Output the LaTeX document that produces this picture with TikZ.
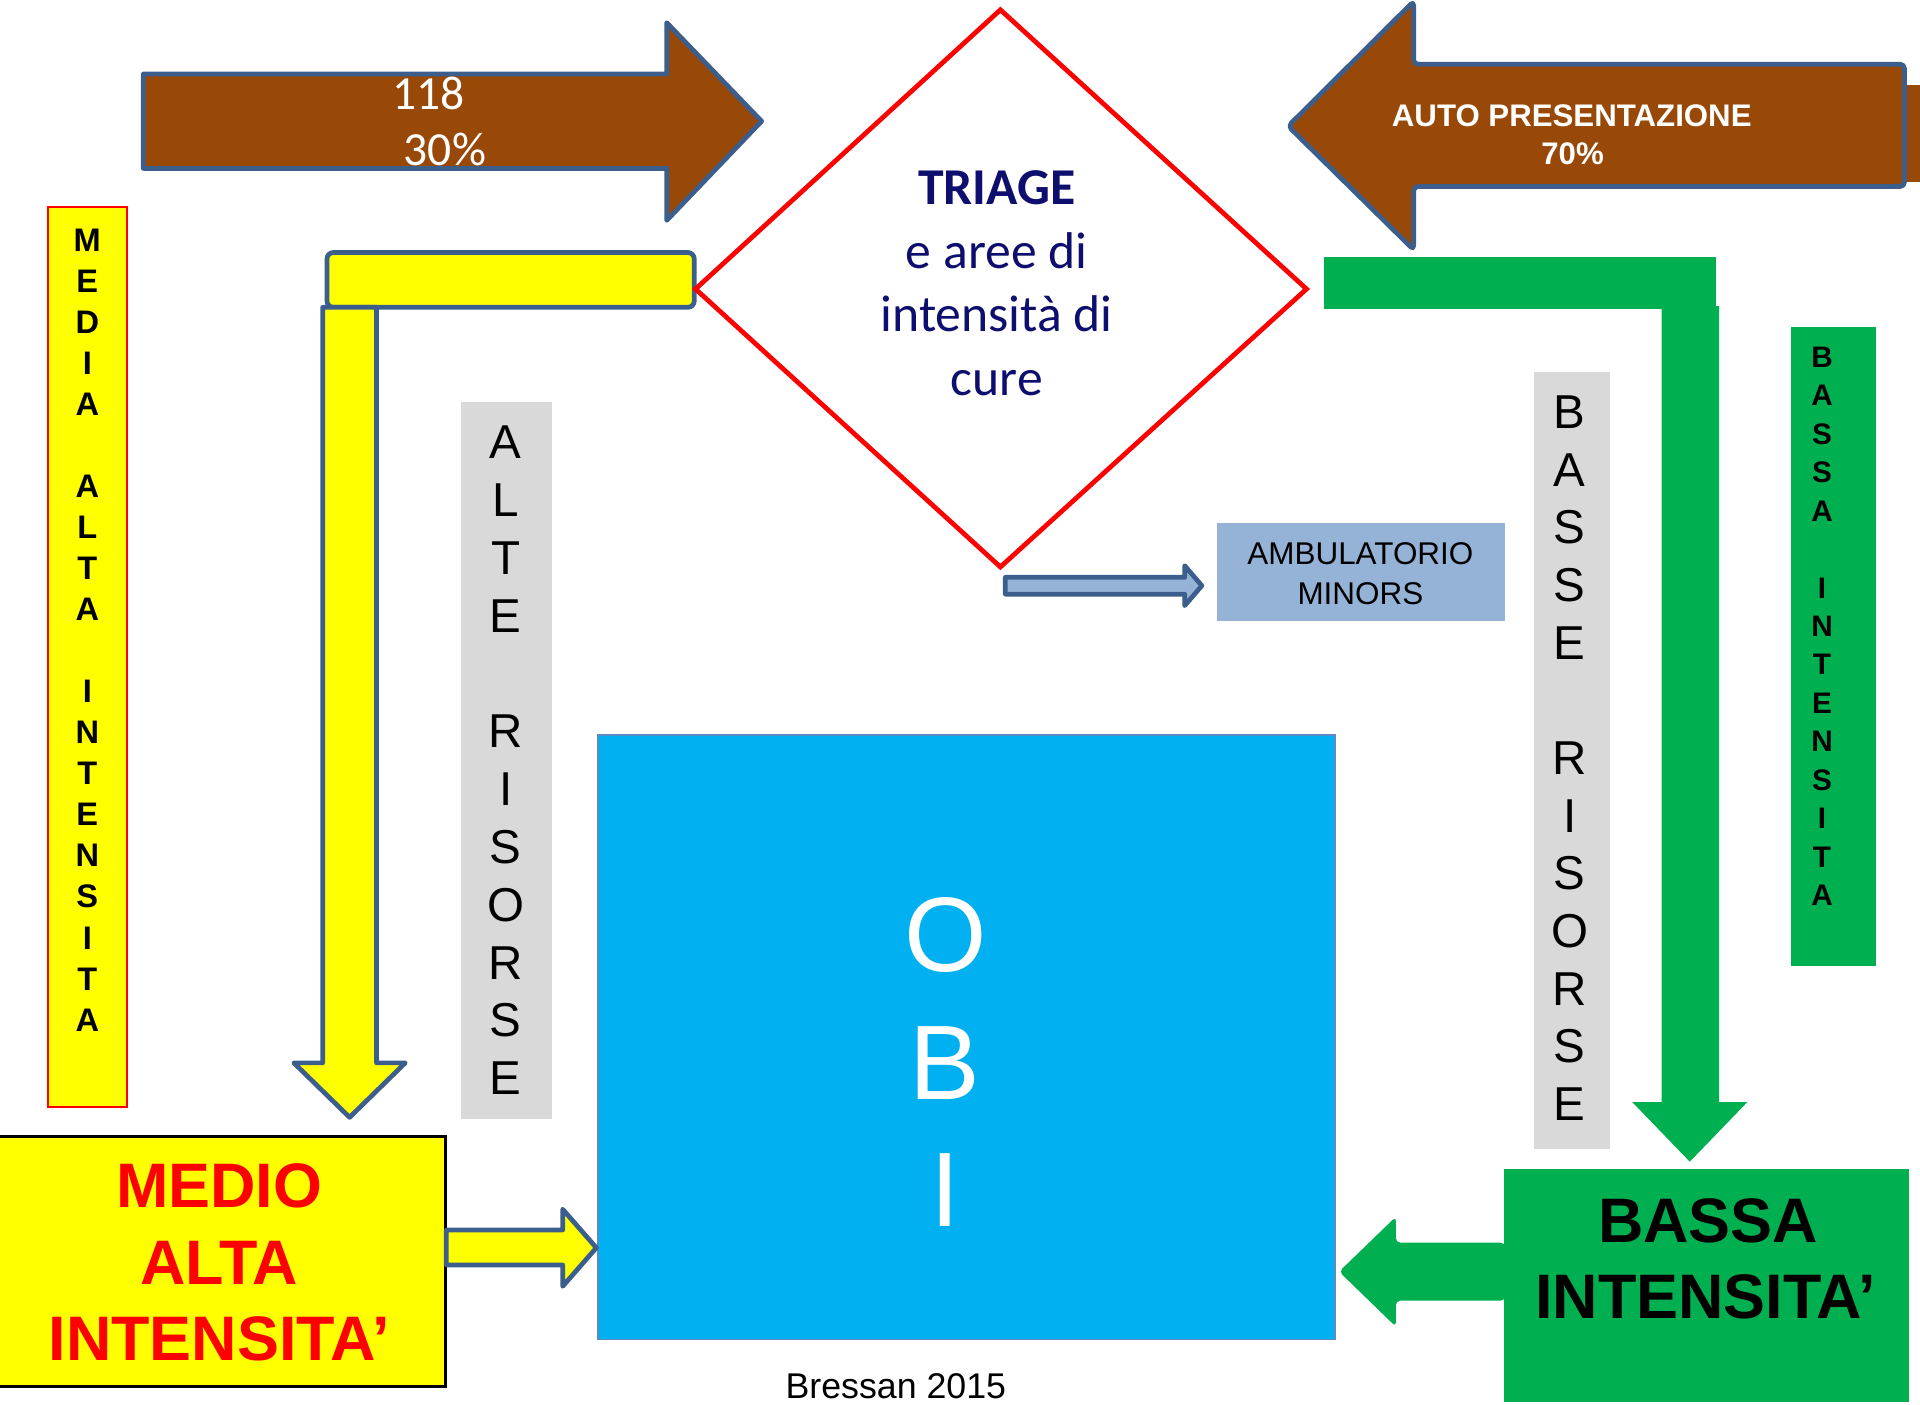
\documentclass[tikz,border=0pt]{standalone}
\usepackage{fontspec}
\setmainfont{Liberation Sans}
\newfontfamily\calibri{Carlito}

\definecolor{brownfill}{HTML}{984807}
\definecolor{arrowline}{HTML}{3B5E8C}
\definecolor{navytxt}{HTML}{0E0E6E}
\definecolor{obiblue}{HTML}{00B0F0}
\definecolor{obiline}{HTML}{5B8AC6}
\definecolor{minorblue}{HTML}{95B3D7}
\definecolor{greyres}{HTML}{D9D9D9}
\definecolor{greenfill}{HTML}{00B050}
\definecolor{yellowfill}{HTML}{FFFF00}
\definecolor{redline}{HTML}{FF0000}

\tikzset{
  x=0.01cm, y=-0.01cm,
  outlined/.style={draw=arrowline, line width=1.1pt, line join=round},
  txt/.style={inner sep=0pt, anchor=base},
  vma/.style={txt, font=\fontsize{7.57pt}{9pt}\selectfont\bfseries},
  vres/.style={txt, font=\fontsize{11.04pt}{13pt}\selectfont},
  vbassa/.style={txt, font=\fontsize{6.9pt}{8pt}\selectfont\bfseries},
  triagetxt/.style={txt, text=navytxt, font=\fontsize{12pt}{14pt}\calibri},
  bigbold/.style={txt, font=\fontsize{14.6pt}{17pt}\selectfont\bfseries},
}

\begin{document}
\begin{tikzpicture}
\useasboundingbox (0,0) rectangle (1568,1147);

% ---- incoming flows ----
% 118 arrow (left)
\draw[outlined, fill=brownfill]
  (117,60.5) -- (544.5,60.5) -- (544.5,18.5) -- (622,99) -- (544.5,180) -- (544.5,137.5) -- (117,137.5) -- cycle;
\node[txt, text=white, font=\fontsize{11.04pt}{13pt}\calibri] (n118) at (350,89.3) {118};
\node[txt, text=white, font=\fontsize{11.04pt}{13pt}\calibri] (n30) at (363.4,135.3) {30\%};

% self presentation arrow (right)
\fill[brownfill] (1540,69.4) rectangle (1568,148.4);
\draw[outlined, fill=brownfill, rounded corners=1pt]
  (1555.3,52.4) -- (1154.5,52.4) -- (1154.5,1) -- (1052,103) -- (1154.5,204) -- (1154.5,152.3) -- (1555.3,152.3) -- cycle;
\node[txt, text=white, font=\fontsize{7.25pt}{9pt}\selectfont\bfseries] (auto) at (1283.6,102.9) {AUTO PRESENTAZIONE};
\node[txt, text=white, font=\fontsize{7.25pt}{9pt}\selectfont\bfseries] (p70) at (1284.3,134.2) {70\%};

% ---- high intensity path (yellow) ----
\draw[outlined, fill=yellowfill, rounded corners=1.5pt] (267,206.2) rectangle (567,251);
\draw[outlined, fill=yellowfill]
  (263.5,251) -- (307.5,251) -- (307.5,868) -- (331,868) -- (285.5,912.5) -- (240,868) -- (263.5,868) -- cycle;

% ---- low intensity path (green) ----
\fill[greenfill] (1081,209.6) rectangle (1401.4,252.3);
\fill[greenfill]
  (1357,250) -- (1404,250) -- (1404,900) -- (1427,900) -- (1380,948.7) -- (1333,900) -- (1357,900) -- cycle;

% ---- triage diamond ----
\draw[draw=redline, line width=1.1pt, fill=white] (817,8) -- (1067,236) -- (817,463) -- (568,236) -- cycle;
\node[triagetxt, font=\fontsize{12pt}{14pt}\calibri\bfseries] (triage) at (814,166.6) {TRIAGE};
\node[triagetxt] (tr2) at (814,219) {e aree di};
\node[triagetxt] (tr3) at (814,270.9) {intensità di};
\node[triagetxt] (tr4) at (814,322.6) {cure};

% ---- minor ambulatory ----
\draw[outlined, fill=minorblue]
  (821,471.5) -- (967.5,471.5) -- (967.5,462) -- (981.5,478.3) -- (967.5,494.6) -- (967.5,485.2) -- (821,485.2) -- cycle;
\fill[minorblue] (994,427) rectangle (1229,507);
\node[txt, font=\fontsize{7.3pt}{9pt}\selectfont] (amb1) at (1111,461.2) {AMBULATORIO};
\node[txt, font=\fontsize{7.3pt}{9pt}\selectfont] (amb2) at (1111,493.3) {MINORS};

% ---- vertical labels ----
\draw[draw=redline, line width=0.5pt, fill=yellowfill] (39.5,169) rectangle (104,904);
\foreach \k/\ch in {0/M,1/E,2/D,3/I,4/A,6/A,7/L,8/T,9/A,11/I,12/N,13/T,14/E,15/N,16/S,17/I,18/T,19/A}
  \node[vma] (ma-\k) at (71.3,205.5+33.5*\k) {\ch};

\fill[greyres] (376.5,328) rectangle (450.5,914);
\foreach \k/\ch in {0/A,1/L,2/T,3/E,5/R,6/I,7/S,8/O,9/R,10/S,11/E}
  \node[vres] (ar-\k) at (413,374.8+47.2*\k) {\ch};

\fill[greyres] (1252.7,303.8) rectangle (1314.8,938);
\foreach \k/\ch in {0/B,1/A,2/S,3/S,4/E,6/R,7/I,8/S,9/O,10/R,11/S,12/E}
  \node[vres] (br-\k) at (1282,349.8+47.1*\k) {\ch};

\fill[greenfill] (1462.6,266.8) rectangle (1532,789);
\foreach \k/\ch in {0/B,1/A,2/S,3/S,4/A,6/I,7/N,8/T,9/E,10/N,11/S,12/I,13/T,14/A}
  \node[vbassa] (bi-\k) at (1488,300+31.4*\k) {\ch};

% ---- OBI ----
\draw[draw=obiline, line width=0.4pt, fill=obiblue] (488.5,600) rectangle (1090,1094);
\node[txt, text=white, font=\fontsize{24.6pt}{28pt}\selectfont] (obiO) at (772,793.5) {O};
\node[txt, text=white, font=\fontsize{24.6pt}{28pt}\selectfont] (obiB) at (772,898) {B};
\node[txt, text=white, font=\fontsize{24.6pt}{28pt}\selectfont] (obiI) at (772,1002) {I};

% ---- medium-high intensity ----
\draw[draw=black, line width=0.6pt, fill=yellowfill] (-2,928) rectangle (364,1132.3);
\node[bigbold, text=redline] (med1) at (179,986) {MEDIO};
\node[bigbold, text=redline] (med2) at (179,1048.6) {ALTA};
\node[bigbold, text=redline] (med3) at (179,1111) {INTENSITA’};
\draw[outlined, fill=yellowfill]
  (364.5,1004.5) -- (459.5,1004.5) -- (459.5,987.5) -- (487,1019) -- (459.5,1050.5) -- (459.5,1033) -- (364.5,1033) -- cycle;

% ---- low intensity ----
\fill[greenfill] (1228.3,954.7) rectangle (1559,1144.7);
\node[bigbold] (bas1) at (1395,1014.3) {BASSA};
\node[bigbold] (bas2) at (1393,1076.6) {INTENSITA’};
\fill[greenfill, rounded corners=1pt]
  (1229,1014.8) -- (1140,1014.8) -- (1140,993.6) -- (1093.6,1038.5) -- (1140,1083.5) -- (1140,1062.2) -- (1229,1062.2) -- cycle;

% ---- credit ----
\node[txt, font=\fontsize{8.3pt}{10pt}\selectfont] (credit) at (731.6,1142.5) {Bressan 2015};
\end{tikzpicture}
\end{document}
